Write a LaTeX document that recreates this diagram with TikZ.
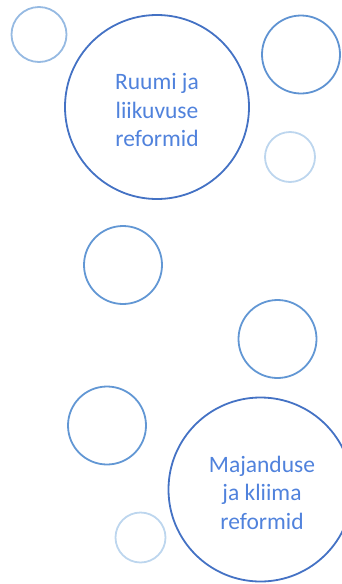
\documentclass[tikz,border=0pt]{standalone}
\usepackage{fontspec}
\setmainfont{Carlito}
\usepackage{tikz}
\definecolor{darkblue}{RGB}{68,114,196}
\definecolor{midblue}{RGB}{98,151,212}
\definecolor{paleblue}{RGB}{189,214,238}
\definecolor{softblue}{RGB}{150,186,226}
\definecolor{textblue}{RGB}{80,130,220}

\begin{document}
\begin{tikzpicture}[
        x=1pt,y=-1pt,
        every node/.style={draw,circle,inner sep=0pt,line width=1.8pt},
        bigbubble/.style={draw=darkblue,minimum size=184pt},
        bubble/.style={draw=midblue,minimum size=78pt},
        pale/.style={draw=paleblue,minimum size=50pt},
        bubbletext/.style={draw=none,rectangle,align=center,text=textblue,
          font=\fontsize{23.5}{28.5}\selectfont},
      ]
      \useasboundingbox (0,0) rectangle (341,584);
      % big circles with text
      \node[bigbubble] (space) at (157,107) {};
      \node[bubbletext] (spacetext) at (157,110) {Ruumi ja\\liikuvuse\\reformid};
      \node[bigbubble] (economy) at (260.5,489.5) {};
      \node[bubbletext] (economytext) at (262,492.5) {Majanduse\\ja kliima\\reformid};
      % medium circles
      \node[bubble,draw=softblue,minimum size=55pt] (topleft) at (39,34.5) {};
      \node[bubble,draw=midblue!90!darkblue] (topright) at (301,54.5) {};
      \node[bubble] (middle) at (123,265) {};
      \node[bubble] (right) at (277.5,339) {};
      \node[bubble] (left) at (107,425.5) {};
      % pale circles
      \node[pale] (smallright) at (290,157) {};
      \node[pale] (smallbottom) at (140.5,537.5) {};
    \end{tikzpicture}
\end{document}
